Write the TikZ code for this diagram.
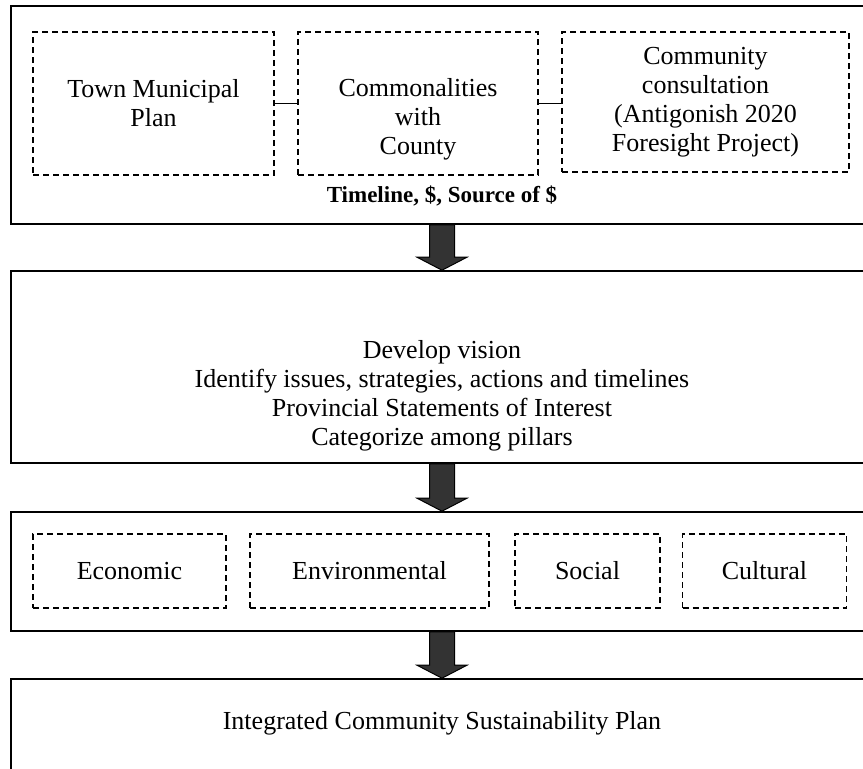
\documentclass[tikz,border=0pt]{standalone}
\usepackage{fontspec}
\setmainfont{Liberation Serif}
\usetikzlibrary{calc}

\begin{document}
\begin{tikzpicture}[x=1pt,y=-1pt,
  stage/.style={draw,line width=1.6pt,minimum width=862pt,inner sep=0pt},
  part/.style={draw,dash pattern=on 6pt off 4pt,line width=1.1pt,inner sep=0pt,
    align=center,font=\fontsize{26}{29}\selectfont},
  lbl/.style={align=center,font=\fontsize{26}{29}\selectfont},
  flow/.style={draw=black,line width=1pt,fill=black!80}]
\useasboundingbox (0,0) rectangle (863,769);
\clip (0,0) rectangle (863,769);
% the four stages
\node[stage,minimum height=218pt] (b1) at (442,115) {};
\node[stage,minimum height=192pt] (b2) at (442,367) {};
\node[stage,minimum height=119pt] (b3) at (442,571.5) {};
\node[stage,minimum height=180pt] (b4) at (442,769) {};
% inputs
\node[part,minimum width=241pt,minimum height=143pt] (town) at (153.5,103.5) {Town Municipal\\Plan};
\node[part,minimum width=240pt,minimum height=143pt] (county) at (418,103.5) {\strut\\Commonalities\\with\\County};
\node[part,minimum width=287pt,minimum height=140pt] (consult) at (705.5,102) {Community\\consultation\\(Antigonish 2020\\Foresight Project)};
\draw[line width=1.2pt] (town.east) -- (town.east -| county.west);
\draw[line width=1.2pt] (county.east) -- (county.east -| consult.west);
\node[lbl,font=\fontsize{23}{29}\selectfont\bfseries] (cost) at (442,196) {Timeline, \$, Source of \$};
% vision
\node[lbl] (vision) at (442,395.5) {Develop vision\\Identify issues, strategies, actions and timelines\\Provincial Statements of Interest\\Categorize among pillars};
% pillars
\node[part,minimum width=193pt,minimum height=74pt] (econ) at (129.5,571) {Economic};
\node[part,minimum width=239pt,minimum height=74pt] (env) at (369.5,571) {Environmental};
\node[part,minimum width=145pt,minimum height=74pt] (soc) at (587.5,571) {Social};
\node[part,minimum width=164pt,minimum height=74pt] (cult) at (764.5,571) {Cultural};
% result
\node[lbl] (icsp) at (442,723) {Integrated Community Sustainability Plan};
% block arrows
\foreach \a/\b in {b1/b2,b2/b3,b3/b4}
  \draw[flow] ($(\a.south)+(-12.5,0)$) -- ($(\b.north)+(-12.5,-13)$) -- ($(\b.north)+(-25,-13)$)
    -- (\b.north) -- ($(\b.north)+(25,-13)$) -- ($(\b.north)+(12.5,-13)$) -- ($(\a.south)+(12.5,0)$) -- cycle;
\end{tikzpicture}
\end{document}
